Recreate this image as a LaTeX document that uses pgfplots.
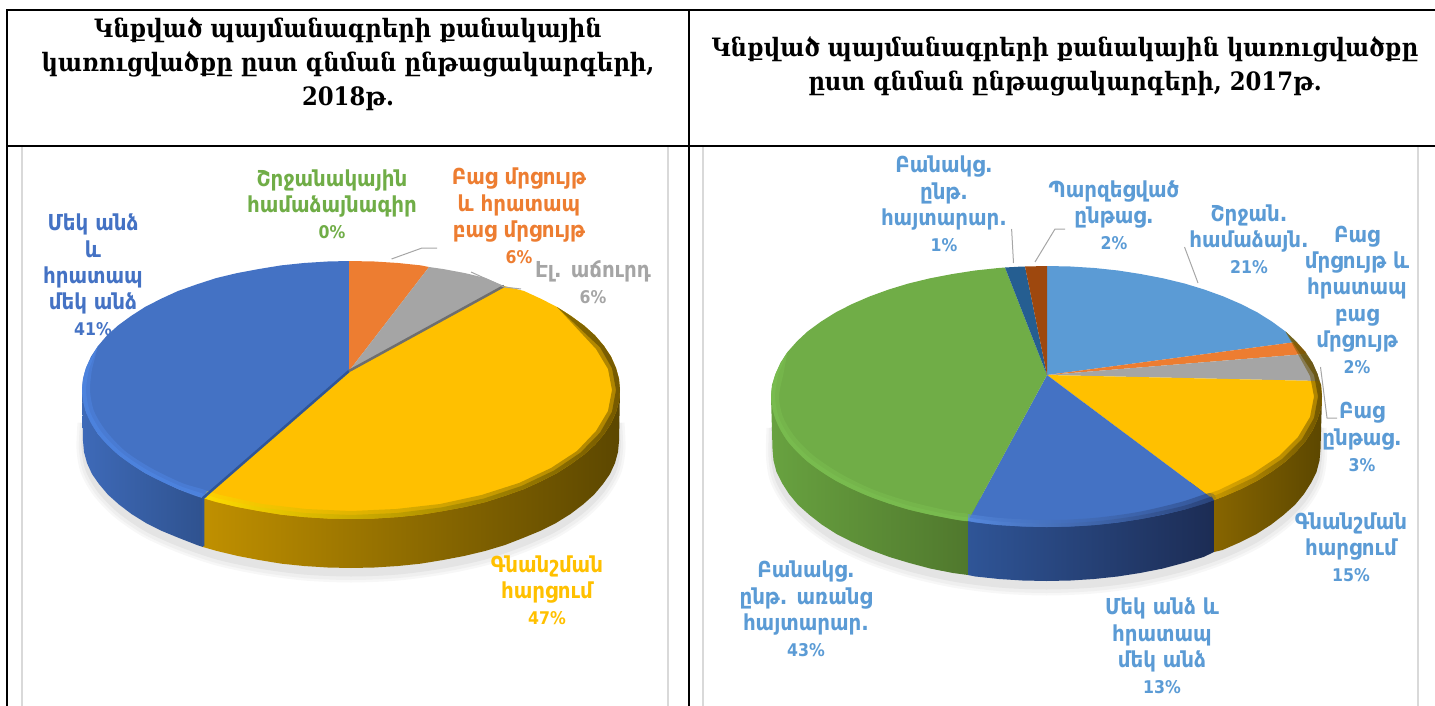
\documentclass[border=0pt]{standalone}
\usepackage{fontspec}
\usepackage{pgfplots}
\pgfplotsset{compat=1.18}
\usepackage{pgfplotstable}
\newfontfamily\lab{DejaVu Sans Condensed}
\newfontfamily\tit{DejaVu Serif Condensed}
\newcommand\pc[1]{{\fontsize{17.5}{26.2}\selectfont #1}}
\definecolor{cBlue}{HTML}{4472C4}
\definecolor{cOrange}{HTML}{ED7D31}
\definecolor{cGray}{HTML}{A5A5A5}
\definecolor{cYellow}{HTML}{FFC000}
\definecolor{cLight}{HTML}{5B9BD5}
\definecolor{cGreen}{HTML}{70AD47}
\definecolor{cDBlue}{HTML}{255E91}
\definecolor{cBrown}{HTML}{9E480E}
\definecolor{cLead}{HTML}{A6A6A6}
\definecolor{cPanel}{HTML}{D9D9D9}
\definecolor{sA}{HTML}{F7F7F7}
\definecolor{sB}{HTML}{EFEFEF}
\definecolor{sC}{HTML}{E4E4E4}
\pgfplotstableread{
x y
84 415
83 441
87 463
99 484
119 504.5
146 523
179 538
217 551
259 560
304 566
351 568
398 566
443 560
485 551
523 538
556 523
583 504.5
603 484
615 463
619 441
618 415
}\leftShadow
\pgfplotstableread{
x y
773 420
772.5 449
776.5 472
789 494
809.5 515
836.5 534
870.5 550
909.5 563
953 573
999 579
1046.5 581
1094 579
1140 573
1183.5 563
1222.5 550
1256.5 534
1283.5 515
1304 494
1316.5 472
1320.5 449
1320 420
}\rightShadow
\tikzset{
  lbl/.style={align=center,inner sep=0pt,yshift=1pt,font=\lab\bfseries\fontsize{22}{26.2}\selectfont},
  ttl/.style={align=center,inner sep=0pt,font=\tit\bfseries\fontsize{25.3}{34}\selectfont},
  shad/.style={draw=#1,fill=#1,line join=round,smooth},
}
\begin{document}
\begin{tikzpicture}
\path[use as bounding box] (0,0) rectangle (1435pt,706pt);
\begin{axis}[at={(0,0)},anchor=south west,width=1435pt,height=706pt,scale only axis,
  xmin=0,xmax=1435,ymin=0,ymax=706,y dir=reverse,hide axis,clip=false]
% panels
\addplot[cPanel,line width=2pt] coordinates {(22,147)(22,706)};
\addplot[cPanel,line width=2pt] coordinates {(668,147)(668,706)};
\addplot[cPanel,line width=2pt] coordinates {(703,147)(703,706)};
\addplot[cPanel,line width=2pt] coordinates {(1418,147)(1418,706)};
% shadows
\addplot[shad=sA,line width=13pt,yshift=-8pt] table[x=x,y=y] {\leftShadow};
\addplot[shad=sB,line width=8pt,yshift=-8pt] table[x=x,y=y] {\leftShadow};
\addplot[shad=sC,line width=3pt,yshift=-7pt] table[x=x,y=y] {\leftShadow};
\addplot[shad=sA,line width=13pt,yshift=-8pt] table[x=x,y=y] {\rightShadow};
\addplot[shad=sB,line width=8pt,yshift=-8pt] table[x=x,y=y] {\rightShadow};
\addplot[shad=sC,line width=3pt,yshift=-7pt] table[x=x,y=y] {\rightShadow};

% ===== LEFT PIE 2018: 41, 6, 6, 47, 0 =====
% sides
\addplot[draw=none,shade,left color={rgb,255:red,62;green,106;blue,184},right color={rgb,255:red,47;green,82;blue,143}] coordinates {
(82,390)(86,412)(98,434)(118,454.5)(145,473)(178,489)(203,498)(203,547)(197,545)(179,538)(161.5,530.8)(146,523)(131.5,514)(119,504.5)(108,494.7)(99,484)(92,474)(87,463)(84,452)(83,441)};
\addplot[draw=none,shade,left color={rgb,255:red,192;green,144;blue,0},middle color={rgb,255:red,118;green,89;blue,0},right color={rgb,255:red,92;green,71;blue,0}] coordinates {
(203,498)(351,480)(620,390)(619,441)(618,452)(615,463)(610,474)(603,484)(594,494.7)(583,504.5)(570.5,514)(556,523)(540.5,530.8)(523,538)(505,545)(485,551)(464,556)(443,560)(420.4,563.7)(398,566)(374.3,567.5)(351,568)(327.7,567.5)(304,566)(281.6,563.7)(259,560)(238,556)(217,551)(203,547)};
% tops
\addplot[draw=none,fill=cBlue] coordinates {
(349,371)(349,261)(327.6,261.5)(304,263)(281,265.4)(259,269)(237,273.1)(216.5,278)(197,284.3)(178,291)(161,298.8)(145,307)(131,316)(118,325.5)(107,335.4)(98,346)(91,356.6)(86,368)(83,378.8)(82,390)(83,401.2)(86,412)(91,423.4)(98,434)(107,444.6)(118,454.5)(131,464)(145,473)(161,481.2)(178,489)(197,495.7)(203,498)};
\addplot[draw=none,fill=cOrange] coordinates {(349,371)(349,261)(374.4,261.5)(398,263)(421,265.4)(429,267)};
\addplot[draw=none,fill=cGray] coordinates {(349,371)(429,267)(443,269)(465,273.1)(485.5,278)(504,286)};
\addplot[draw=none,fill=cYellow] coordinates {
(349,371)(504,286)(524,291)(541,298.8)(557,307)(571,316)(584,325.5)(595,335.4)(604,346)(611,356.6)(616,368)(619,378.8)(620,390)(619,401.2)(616,412)(611,423.4)(604,434)(595,444.6)(584,454.5)(571,464)(557,473)(541,481.2)(524,489)(505,495.7)(485.5,502)(465,506.9)(443,511)(421,514.6)(398,517)(374.4,518.5)(351,519)(327.6,518.5)(304,517)(281,514.6)(259,511)(237,506.9)(216.5,502)(203,498)};
% rim bands, two layers
\addplot[draw=none,shade,left color={rgb,255:red,255;green,224;blue,0},middle color={rgb,255:red,214;green,160;blue,0},right color={rgb,255:red,94;green,72;blue,0},opacity=.5] coordinates {
(203,498)(216.5,502)(237,506.9)(259,511)(281,514.6)(304,517)(327.6,518.5)(351,519)(374.4,518.5)(398,517)(421,514.6)(443,511)(465,506.9)(485.5,502)(505,495.7)(524,489)(541,481.2)(557,473)(571,464)(584,454.5)(595,444.6)(604,434)(611,423.4)(616,412)(619,401.2)(620,390)(619,378.8)(616,368)(611,356.6)(604,346)(595,335.4)(584,325.5)(571,316)(557,307)
(596,349)(608,369)(612,390)(608,411)(596,431)(577,451)(551,468)(519,483)(481.5,495)(440,504)(396,509)(351,511)(306,509)(262,504)(220.5,495)(207,491)};
\addplot[draw=none,shade,left color={rgb,255:red,255;green,224;blue,0},middle color={rgb,255:red,190;green,140;blue,0},right color={rgb,255:red,94;green,72;blue,0},opacity=.7] coordinates {
(203,498)(216.5,502)(237,506.9)(259,511)(281,514.6)(304,517)(327.6,518.5)(351,519)(374.4,518.5)(398,517)(421,514.6)(443,511)(465,506.9)(485.5,502)(505,495.7)(524,489)(541,481.2)(557,473)(571,464)(584,454.5)(595,444.6)(604,434)(611,423.4)(616,412)(619,401.2)(620,390)(619,378.8)(616,368)(611,356.6)(604,346)(595,335.4)(584,325.5)(571,316)(557,307)
(600,347.3)(612,368.3)(616,390)(612,411.7)(600,432.7)(580.5,452.6)(554,470.5)(521.4,486)(483.5,498.6)(441.6,507.4)(397,513)(351,515)(305,513)(260.4,507.4)(218.5,498.6)(205,494.5)};
\addplot[draw=none,smooth,fill={rgb,255:red,78;green,133;blue,226},opacity=.5] coordinates {
(98,346)(86,368)(82,390)(86,412)(98,434)(118,454.5)(145,473)(178,489)(203,498)(207,491)(182,483)(151,468)(125,451)(106,431)(94,411)(90,390)(92,369)};
\addplot[draw=none,smooth,fill={rgb,255:red,78;green,133;blue,226},opacity=.7] coordinates {
(98,346)(86,368)(82,390)(86,412)(98,434)(118,454.5)(145,473)(178,489)(203,498)(205,494.5)(180,486)(148,470.5)(121.5,452.6)(102,432.7)(90,411.7)(86,390)(89,369)};
% separators
\addplot[color={rgb,255:red,47;green,85;blue,151},line width=2.5pt] coordinates {(349,371)(203,498)(203,546)};
\addplot[color={rgb,255:red,110;green,110;blue,110},line width=2.5pt] coordinates {(349,371)(504,286)};

% ===== RIGHT PIE 2017: 21, 2, 3, 15, 13, 43, 1, 2 =====
% sides
\addplot[draw=none,shade,left color={rgb,255:red,104;green,162;blue,64},right color={rgb,255:red,80;green,120;blue,45}] coordinates {
(771,396.5)(800,440)(968,500)(968,575)(953,573)(930.5,568.6)(909.5,563)(889.5,557)(870.5,550)(852.8,542.3)(836.5,534)(822,524.7)(809.5,515)(798,504.8)(789,494)(782,483)(776.5,472)(773.5,460.5)(772.5,449)};
\addplot[draw=none,shade,left color={rgb,255:red,47;green,85;blue,151},right color={rgb,255:red,28;green,44;blue,84}] coordinates {
(968,500)(1214,480)(1214,552)(1203.5,557)(1183.5,563)(1162.5,568.6)(1140,573)(1117.5,576.5)(1094,579)(1070.5,580.5)(1046.5,581)(1022.5,580.5)(999,579)(975.5,576.5)(968,575)};
\addplot[draw=none,shade,left color={rgb,255:red,135;green,101;blue,0},right color={rgb,255:red,92;green,71;blue,0}] coordinates {
(1214,480)(1322,396.5)(1320.5,449)(1319.5,460.5)(1316.5,472)(1311,483)(1304,494)(1295,504.8)(1283.5,515)(1271,524.7)(1256.5,534)(1240,542.3)(1222.5,550)(1214,552)};
% tops
\addplot[draw=none,fill=cLight] coordinates {(1047,375)(1047,266)(1070.5,266.5)(1094.5,268)(1118,270.5)(1140.5,274)(1163,278.3)(1184.5,283.5)(1204.5,289.6)(1223.5,296.5)(1241.3,304.2)(1257.5,312.5)(1272,321.6)(1285.5,331.5)(1296,342)};
\addplot[draw=none,fill=cOrange] coordinates {(1047,375)(1296,342)(1305.5,352)(1305.5,354)};
\addplot[draw=none,fill=cGray] coordinates {(1047,375)(1305.5,354)(1312.5,362.7)(1317.5,374)(1319,381)};
\addplot[draw=none,fill=cYellow] coordinates {(1047,375)(1319,381)(1321,385)(1322,396.5)(1321,408)(1317.5,419)(1312.5,430.3)(1305.5,441)(1296,451.7)(1285.5,461.5)(1272,471.4)(1257.5,480.5)(1241.3,488.8)(1223.5,496.5)(1214,500)};
\addplot[draw=none,fill=cBlue] coordinates {(1047,375)(1214,500)(1204.5,503.4)(1184.5,509.5)(1163,514.7)(1140.5,519)(1118,522.5)(1094.5,525)(1070.5,526.5)(1046.5,527)(1022.5,526.5)(998.5,525)(975,522.5)(968,521)};
\addplot[draw=none,fill=cGreen] coordinates {(1047,375)(968,521)(952.5,519)(930,514.7)(908.5,509.5)(888.5,503.4)(869.5,496.5)(851.7,488.8)(835.5,480.5)(821,471.4)(807.5,461.5)(797,451.7)(787.5,441)(780.5,430.3)(775.5,419)(772,408)(771,396.5)(772,385)(775.5,374)(780.5,362.7)(787.5,352)(797,341.3)(807.5,331.5)(821,321.6)(835.5,312.5)(851.7,304.2)(869.5,296.5)(888.5,289.6)(908.5,283.5)(930,278.3)(952.5,274)(975,270.5)(998.5,268)(1005,267.5)};
\addplot[draw=none,fill=cDBlue] coordinates {(1047,375)(1005,267.5)(1022.5,266.5)(1025,266.5)};
\addplot[draw=none,fill=cBrown] coordinates {(1047,375)(1025,266.5)(1047,266)};
% rim bands, two layers
\addplot[draw=none,smooth,fill={rgb,255:red,122;green,190;blue,80},opacity=.5] coordinates {
(787.5,352)(775.5,374)(771,396.5)(775.5,419)(787.5,441)(807.5,461.5)(835.5,480.5)(869.5,496.5)(908.5,509.5)(952.5,519)(968,521)(968,514)(954,512)(911,502)(874,490)(841,474)(814,456)(795,437)(783,417)(779,396.5)(783,376)};
\addplot[draw=none,smooth,fill={rgb,255:red,122;green,190;blue,80},opacity=.7] coordinates {
(787.5,352)(775.5,374)(771,396.5)(775.5,419)(787.5,441)(807.5,461.5)(835.5,480.5)(869.5,496.5)(908.5,509.5)(952.5,519)(968,521)(968,517.5)(953,515.5)(910,506)(872,493)(838,477)(811,459)(791,439)(779,418)(775,396.5)(778,375)};
\addplot[draw=none,smooth,shade,left color={rgb,255:red,88;green,140;blue,225},right color={rgb,255:red,38;green,60;blue,110},opacity=.5] coordinates {
(968,521)(998.5,525)(1046.5,527)(1094.5,525)(1140.5,519)(1184.5,509.5)(1214,500)(1210,493)(1181,502)(1138,512)(1093,518)(1046.5,520)(1000,518)(968,514)};
\addplot[draw=none,smooth,shade,left color={rgb,255:red,88;green,140;blue,225},right color={rgb,255:red,38;green,60;blue,110},opacity=.7] coordinates {
(968,521)(998.5,525)(1046.5,527)(1094.5,525)(1140.5,519)(1184.5,509.5)(1214,500)(1212,496.5)(1183,506)(1139,515.5)(1094,521.5)(1046.5,523.5)(999,521.5)(968,517.5)};
\addplot[draw=none,shade,left color={rgb,255:red,190;green,145;blue,0},right color={rgb,255:red,90;green,70;blue,0},opacity=.5] coordinates {
(1214,500)(1223.5,496.5)(1241.3,488.8)(1257.5,480.5)(1272,471.4)(1285.5,461.5)(1296,451.7)(1305.5,441)(1312.5,430.3)(1317.5,419)(1321,408)(1322,396.5)(1321,385)(1317.5,374)(1312.5,362.7)(1305.5,352)(1296,341.3)(1285.5,331.5)(1310,376)(1314,396.5)(1310,417)(1298,437)(1279,456)(1252,474)(1219,490)(1210,493)};
\addplot[draw=none,shade,left color={rgb,255:red,190;green,145;blue,0},right color={rgb,255:red,90;green,70;blue,0},opacity=.7] coordinates {
(1214,500)(1223.5,496.5)(1241.3,488.8)(1257.5,480.5)(1272,471.4)(1285.5,461.5)(1296,451.7)(1305.5,441)(1312.5,430.3)(1317.5,419)(1321,408)(1322,396.5)(1321,385)(1317.5,374)(1312.5,362.7)(1305.5,352)(1296,341.3)(1285.5,331.5)(1314,375)(1318,396.5)(1314,418)(1302,439)(1282,459)(1255,477)(1221,493)(1212,496.5)};

% leader lines
\addplot[cLead,line width=1pt] coordinates {(391.5,259)(422,248)(437,248)};
\addplot[cLead,line width=1pt] coordinates {(471,272)(504,287)(521,289)};
\addplot[cLead,line width=1pt] coordinates {(1011.6,229)(1013.5,263)};
\addplot[cLead,line width=1pt] coordinates {(1065,229)(1055,229)(1035,262)};
\addplot[cLead,line width=1pt] coordinates {(1184.5,247)(1198,283)};
\addplot[cLead,line width=1pt] coordinates {(1320.5,367)(1327,418)(1337,418)};

% table rules
\addplot[black,line width=2pt] coordinates {(6,10)(1435,10)};
\addplot[black,line width=2pt] coordinates {(6,146)(1435,146)};
\addplot[black,line width=2pt] coordinates {(7,10)(7,706)};
\addplot[black,line width=2pt] coordinates {(689,10)(689,706)};

% titles
\node[ttl] at (axis cs:348,64) {Կնքված պայմանագրերի քանակային\\կառուցվածքը ըստ գնման ընթացակարգերի,\\2018թ.};
\node[ttl] at (axis cs:1065,66) {Կնքված պայմանագրերի քանակային կառուցվածքը\\ըստ գնման ընթացակարգերի, 2017թ.};

% left labels
\node[lbl,text=cGreen] at (axis cs:332,205) {Շրջանակային\\համաձայնագիր\\\pc{0\%}};
\node[lbl,text=cOrange] at (axis cs:519,217) {Բաց մրցույթ\\և հրատապ\\բաց մրցույթ\\\pc{6\%}};
\node[lbl,text=cBlue] at (axis cs:93,276) {Մեկ անձ\\և\\հրատապ\\մեկ անձ\\\pc{41\%}};
\node[lbl,text=cGray] at (axis cs:593,283) {Էլ. աճուրդ\\\pc{6\%}};
\node[lbl,text=cYellow] at (axis cs:547,591) {Գնանշման\\հարցում\\\pc{47\%}};
% right labels
\node[lbl,text=cLight] at (axis cs:944,205) {Բանակց.\\ընթ.\\հայտարար.\\\pc{1\%}};
\node[lbl,text=cLight] at (axis cs:1114,216) {Պարզեցված\\ընթաց.\\\pc{2\%}};
\node[lbl,text=cLight] at (axis cs:1249,240) {Շրջան.\\համաձայն.\\\pc{21\%}};
\node[lbl,text=cLight] at (axis cs:1357,301) {Բաց\\մրցույթ և\\հրատապ\\բաց\\մրցույթ\\\pc{2\%}};
\node[lbl,text=cLight] at (axis cs:1362,438) {Բաց\\ընթաց.\\\pc{3\%}};
\node[lbl,text=cLight] at (axis cs:1351,548) {Գնանշման\\հարցում\\\pc{15\%}};
\node[lbl,text=cLight] at (axis cs:1162,647) {Մեկ անձ և\\հրատապ\\մեկ անձ\\\pc{13\%}};
\node[lbl,text=cLight] at (axis cs:806,610) {Բանակց.\\ընթ. առանց\\հայտարար.\\\pc{43\%}};
\end{axis}
\end{tikzpicture}
\end{document}
